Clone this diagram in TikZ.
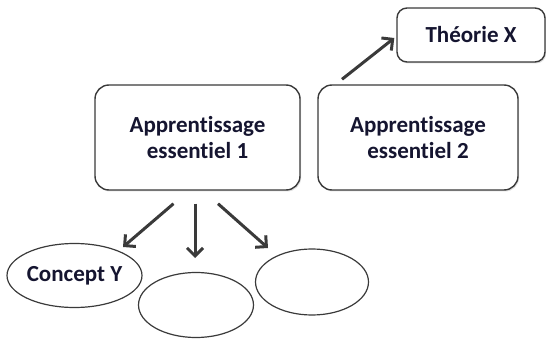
\documentclass[tikz,border=0pt]{standalone}
\usepackage{fontspec}
\setmainfont{Carlito}[Ligatures={NoCommon}]
\usetikzlibrary{arrows.meta,shadows,shapes.geometric}
\definecolor{linec}{HTML}{3A3A3A}
\definecolor{textc}{HTML}{151530}
\tikzset{
  boxnode/.style={draw=linec, line width=1.4pt, rounded corners=14pt, fill=white,
    drop shadow={shadow xshift=1.2pt, shadow yshift=-1.5pt, opacity=0.25, fill=gray},
    align=center, font=\fontsize{23}{26}\selectfont\bfseries, text=textc, inner sep=0pt},
  ellnode/.style={draw=linec, line width=1.2pt, ellipse, fill=white, inner sep=0pt,
    font=\fontsize{23}{26}\selectfont\bfseries, text=textc},
  arr/.style={draw=linec, line width=3pt, -{Straight Barb[length=8pt,width=16pt,line width=3pt]}},
}
\begin{document}
\begin{tikzpicture}[x=1pt,y=-1pt]
\useasboundingbox (0,0) rectangle (546,339);
\node[boxnode, minimum width=205pt, minimum height=105pt] (b1) at (197.5,137.5) {Apprentissage\\essentiel 1};
\node[boxnode, minimum width=200pt, minimum height=105pt] (b2) at (418,137.5) {Apprentissage\\essentiel 2};
\node[boxnode, rounded corners=10pt, minimum width=148pt, minimum height=54pt] (t) at (471,35) {Théorie X};
\node[ellnode, minimum width=114pt, minimum height=64pt] (c1) at (74.5,275.5) {Concept Y};
\node[ellnode, minimum width=115pt, minimum height=65pt] (c2) at (196,305) {};
\node[ellnode, minimum width=113pt, minimum height=66pt] (c3) at (312,282) {};
\draw[arr] ([xshift=-76pt,yshift=5pt]b2.north) -- ([xshift=-2pt,yshift=-3pt]t.west);
\draw[arr] ([xshift=-24pt,yshift=-13pt]b1.south) -- ([xshift=48.5pt,yshift=28.5pt]c1.center);
\draw[arr] ([xshift=-2.5pt,yshift=-13pt]b1.south) -- ([xshift=-1pt,yshift=47pt]c2.center);
\draw[arr] ([xshift=20.5pt,yshift=-13pt]b1.south) -- ([xshift=-44pt,yshift=34pt]c3.center);
\end{tikzpicture}
\end{document}
